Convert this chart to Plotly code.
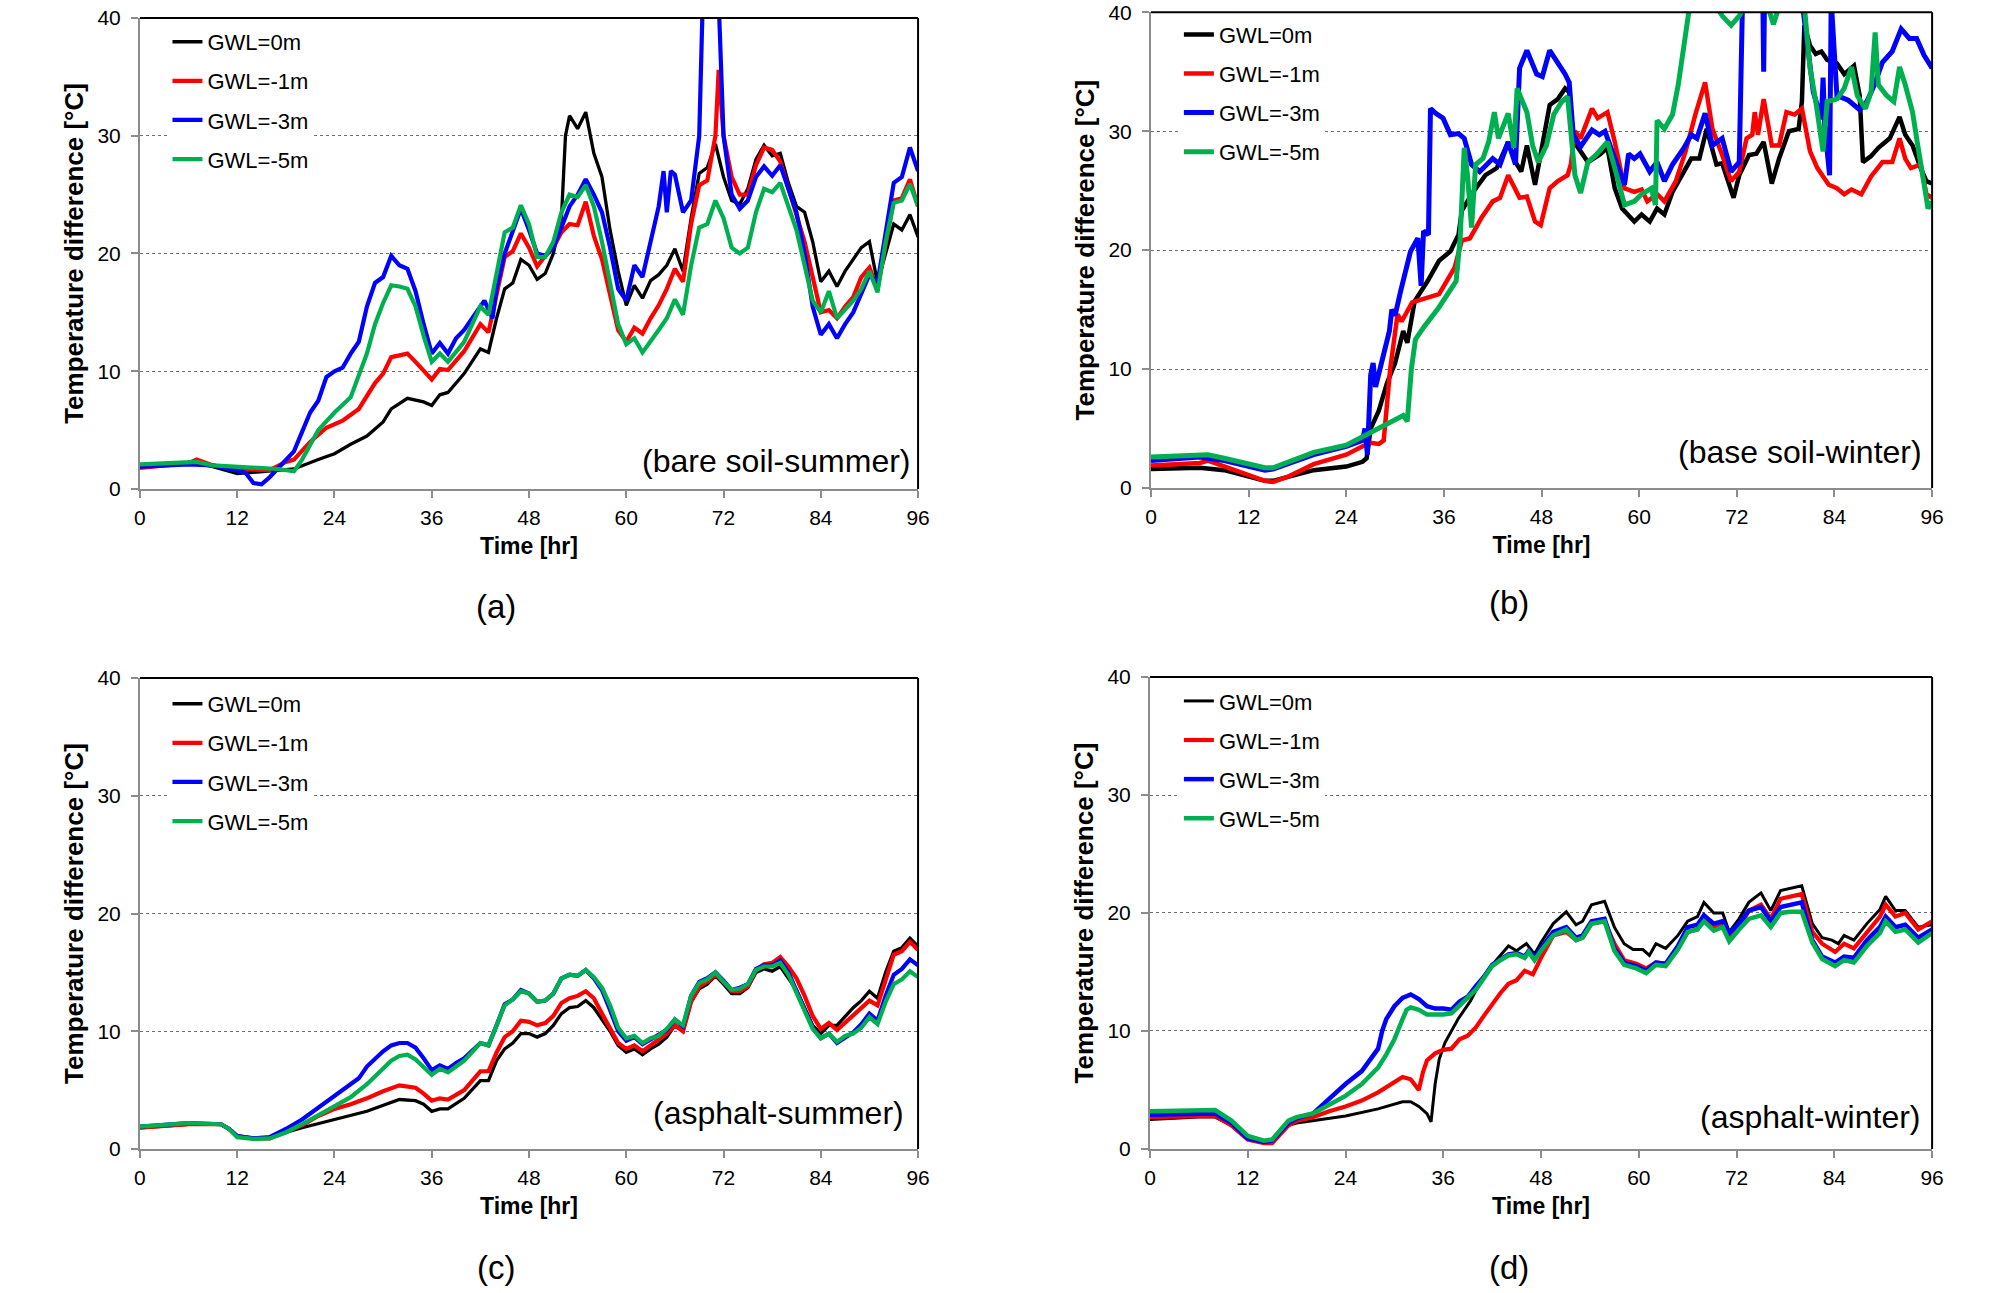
import plotly.graph_objects as go

# GWL series, (hour, temperature difference)
a_gwl0 = [(0,2.0),(6,2.1),(7,2.2),(9,1.9),(12,1.3),(16,1.5),(19,1.7),(22,2.5),(24,3.0),(26,3.8),(28,4.5),(30,5.7),(31,6.8),(33,7.7),(35,7.4),(36,7.1),(37,8.0),(38,8.2),(40,9.8),(42,11.9),(43,11.6),(44,14.5),(45,17.0),(46,17.5),(47,19.5),(48,19.0),(49,17.8),(50,18.3),(51,20.0),(52,23.0),(52.5,30.0),(53,31.7),(54,30.6),(55,32.0),(56,28.5),(57,26.5),(58,22.0),(59,18.5),(60,15.6),(61,17.3),(62,16.2),(63,17.7),(64,18.2),(65,19.0),(66,20.4),(67,18.5),(68,23.0),(69,26.8),(70,27.3),(71,29.3),(72,26.5),(73,24.5),(74,24.2),(75,25.5),(76,28.0),(77,29.2),(78,28.3),(79,28.5),(80,26.0),(81,24.0),(82,23.5),(83,21.0),(84,17.6),(85,18.5),(86,17.2),(87,18.5),(88,19.5),(89,20.5),(90,21.0),(91,17.5),(92,20.0),(93,22.5),(94,22.0),(95,23.3),(96,21.4)]
a_gwl1 = [(0,1.8),(6,2.2),(7,2.5),(9,2.0),(12,1.7),(16,1.6),(18,2.3),(19,2.5),(21,4.0),(23,5.2),(25,5.8),(27,6.8),(29,9.0),(30,9.8),(31,11.2),(33,11.5),(34,10.8),(36,9.3),(37,10.2),(38,10.1),(40,11.7),(42,14.0),(43,13.3),(44,16.5),(45,19.7),(46,20.2),(47,21.7),(48,20.5),(49,18.9),(50,19.8),(51,20.5),(52,21.8),(53,22.5),(54,22.4),(55,24.4),(56,21.5),(57,19.5),(58,16.5),(59,13.5),(60,12.5),(61,13.7),(62,13.2),(63,14.5),(64,15.6),(65,17.0),(66,18.7),(67,17.6),(68,22.5),(69,25.8),(70,26.2),(71,30.0),(71.4,35.6),(72,30.0),(73,26.5),(74,25.0),(75,25.0),(76,27.5),(77,29.0),(78,28.8),(79,27.8),(80,25.5),(81,23.5),(82,21.0),(83,18.0),(84,15.0),(85,15.2),(86,14.5),(87,15.5),(88,16.3),(89,18.0),(90,18.8),(91,17.0),(92,21.0),(93,24.5),(94,24.7),(95,26.3),(96,24.0)]
a_gwl3 = [(0,1.9),(6,2.1),(9,2.0),(12,1.6),(13,1.4),(14,0.5),(15,0.4),(16,1.0),(18,2.5),(19,3.2),(21,6.5),(22,7.5),(23,9.5),(24,10.0),(25,10.3),(26,11.5),(27,12.5),(28,15.5),(29,17.5),(30,18.0),(31,19.8),(32,19.0),(33,18.7),(34,16.8),(35,14.0),(36,11.5),(37,12.4),(38,11.5),(39,12.8),(40,13.5),(42,15.5),(42.5,16.0),(43.5,14.5),(44,17.0),(45,20.0),(46,22.0),(47,23.8),(48,22.0),(49,20.0),(50,19.8),(51,20.5),(52,22.2),(53,24.0),(54,25.0),(55,26.3),(56,25.0),(57,23.5),(58,20.5),(59,17.0),(60,16.0),(61,19.0),(62,18.0),(63,21.0),(64,24.0),(64.6,27.0),(65,23.5),(65.5,27.0),(66,26.7),(67,23.5),(68,24.5),(69,30.0),(69.4,40.5),(71.4,41.5),(72,30.0),(73,25.0),(74,23.8),(75,24.5),(76,26.5),(77,27.4),(78,26.6),(79,27.5),(80,25.5),(81,23.5),(82,20.0),(83,15.5),(84,13.1),(85,14.0),(86,12.8),(87,14.0),(88,15.0),(89,16.5),(90,18.2),(91,17.5),(92,22.0),(93,26.0),(94,26.5),(95,29.0),(96,27.0)]
a_gwl5 = [(0,2.1),(6,2.2),(7,2.3),(9,2.0),(12,1.9),(17,1.7),(19,1.5),(20,2.5),(22,5.0),(24,6.5),(26,7.8),(28,11.5),(29,14.0),(30,15.8),(31,17.3),(32,17.2),(33,17.0),(34,15.5),(35,13.0),(36,10.8),(37,11.5),(38,10.8),(40,12.5),(42,15.5),(43,14.8),(44,18.5),(45,21.8),(46,22.2),(47,24.1),(48,22.5),(49,19.7),(50,19.7),(51,21.0),(52,23.5),(53,25.0),(54,24.8),(55,25.8),(56,24.0),(57,21.0),(58,17.5),(59,14.0),(60,12.3),(61,12.8),(62,11.6),(63,12.5),(64,13.5),(65,14.5),(66,16.1),(67,14.8),(68,19.0),(69,22.2),(70,22.5),(71,24.5),(72,23.0),(73,20.5),(74,20.0),(75,20.5),(76,23.5),(77,25.5),(78,25.2),(79,26.0),(80,24.0),(81,22.0),(82,19.0),(83,16.0),(84,15.0),(85,16.8),(86,14.5),(87,15.3),(88,16.0),(89,17.0),(90,18.5),(91,16.7),(92,21.0),(93,24.3),(94,24.5),(95,25.9),(96,24.0)]

b_gwl0 = [(0,1.6),(6,1.7),(9,1.5),(12,1.0),(14,0.6),(15,0.6),(18,1.1),(20,1.5),(24,1.8),(26,2.2),(26.5,2.5),(27,5.0),(28,6.5),(29,8.8),(30,10.5),(31,13.2),(31.5,12.2),(32.4,15.7),(34.0,17.4),(35.4,19.1),(36.8,19.9),(37.8,21.3),(38.2,23.3),(39.4,24.7),(41.1,26.3),(42.5,26.9),(43.9,29.1),(44.8,27.4),(45.5,26.6),(46.2,28.8),(47.2,25.5),(48.1,28.8),(49.0,32.2),(50.0,32.7),(50.9,33.6),(51.4,33.3),(51.9,29.1),(52.3,28.8),(53.7,27.4),(55.1,28.0),(56.1,28.6),(57.0,25.2),(57.9,23.5),(59.4,22.4),(60.3,23.0),(61.3,22.4),(62.2,23.5),(63.1,23.0),(64.1,24.9),(65.5,26.6),(66.4,27.7),(67.4,27.7),(68.3,30.2),(69.5,27.2),(70.2,27.3),(71.6,24.4),(72.3,26.3),(73.5,28.0),(74.4,28.1),(75.3,29.1),(76.3,25.6),(77.2,27.7),(78.4,30.0),(79.6,30.2),(80.0,32.5),(80.3,38.9),(81.0,37.2),(81.7,36.5),(82.4,36.7),(83.1,36.0),(84.3,35.7),(85.2,34.8),(86.4,35.5),(87.1,33.0),(87.5,27.4),(88.5,27.9),(89.4,28.6),(90.8,29.4),(92.0,31.2),(92.7,29.7),(93.6,28.8),(94.6,26.9),(95.3,25.8),(96,25.6)]
b_gwl1 = [(0,1.9),(6,2.1),(7,2.3),(9,1.8),(12,1.1),(14,0.6),(15,0.5),(17,1.0),(20,2.0),(24,2.8),(26,3.5),(27,3.8),(28,3.7),(28.6,4.0),(29.4,10.0),(30.3,14.6),(30.8,14.0),(32.1,15.6),(34.0,16.0),(35.4,16.3),(37.3,18.5),(38.2,20.8),(39.2,21.0),(40.6,22.7),(42.0,24.1),(42.9,24.4),(43.9,26.3),(45.3,24.4),(46.2,24.5),(47.2,22.4),(47.9,22.1),(49.0,25.2),(50.0,25.8),(51.2,26.3),(51.6,27.2),(52.1,30.0),(52.8,29.4),(54.2,31.9),(54.9,31.1),(56.1,31.6),(57.0,29.1),(58.2,25.2),(59.4,24.9),(60.3,25.1),(61.0,24.1),(62.2,24.7),(63.1,24.1),(64.5,25.8),(65.7,28.3),(66.9,31.4),(68.1,34.1),(69.0,30.2),(70.2,28.0),(71.3,25.8),(72.3,26.6),(73.2,29.4),(73.9,29.7),(74.2,31.6),(74.6,29.7),(75.3,32.7),(76.3,28.8),(77.2,28.8),(78.1,31.6),(79.1,31.4),(80.0,31.9),(81.0,28.3),(81.9,26.9),(83.3,25.5),(84.3,25.2),(85.2,24.7),(86.1,25.1),(87.3,24.7),(88.5,26.2),(89.9,27.4),(91.1,27.4),(92.0,29.4),(92.7,27.7),(93.4,26.9),(94.6,27.2),(95.3,24.7),(96,24.4)]
b_gwl3 = [(0,2.3),(6,2.6),(9,2.3),(12,1.8),(14,1.5),(15,1.6),(18,2.3),(20,2.8),(24,3.5),(26,4.0),(26.3,5.0),(26.6,2.8),(27,9.5),(27.3,10.5),(27.6,8.5),(28.5,11.0),(29.3,13.2),(29.6,15.0),(30.0,14.5),(30.7,16.6),(31.9,19.9),(32.8,21.0),(33.2,17.0),(33.5,21.6),(34.1,21.3),(34.35,31.9),(35.0,31.5),(35.9,31.1),(36.8,29.7),(37.8,29.8),(38.5,29.4),(39.4,27.2),(40.4,26.6),(42.0,27.7),(42.9,27.2),(43.9,29.1),(44.8,27.2),(45.3,35.3),(46.2,36.8),(47.4,34.8),(48.1,34.6),(49.0,36.8),(50.0,35.8),(50.9,34.8),(51.4,34.1),(51.9,29.7),(52.8,28.7),(54.2,30.1),(55.1,29.7),(55.8,30.0),(57.0,27.7),(58.2,25.5),(58.7,28.1),(59.4,27.7),(60.1,28.1),(61.3,26.6),(62.2,27.4),(63.1,25.8),(64.1,27.2),(65.5,28.6),(66.4,29.7),(67.1,29.4),(68.1,31.5),(69.0,28.8),(70.2,29.4),(71.3,26.6),(72.3,27.4),(72.7,41.0),(75.2,41.0),(75.3,35.0),(75.4,41.0),(80.0,41.0),(81.4,33.3),(82.4,31.0),(82.6,34.5),(82.8,30.5),(83.4,26.3),(83.6,41.0),(84.3,33.0),(85.7,32.6),(87.1,31.8),(88.0,32.5),(88.9,33.9),(89.9,35.8),(91.1,36.7),(92.2,38.6),(93.2,37.8),(94.1,37.8),(95.0,36.4),(96,35.3)]
b_gwl5 = [(0,2.6),(6,2.8),(7,2.8),(9,2.5),(12,2.0),(14,1.7),(15,1.7),(18,2.5),(20,3.0),(24,3.6),(26,4.3),(28,5.0),(30,5.8),(31,6.1),(31.5,5.6),(32.0,10.0),(32.5,12.5),(33.5,13.5),(35.4,15.2),(36.8,16.6),(37.5,17.4),(38.0,21.0),(38.5,28.6),(38.9,26.3),(39.4,21.9),(39.9,27.2),(40.8,27.7),(41.5,29.1),(42.2,31.6),(42.7,29.4),(43.9,31.5),(44.6,28.6),(45.0,33.6),(46.2,31.6),(46.9,28.8),(47.6,27.4),(48.6,28.8),(49.5,31.4),(50.5,32.5),(51.2,32.9),(51.6,29.7),(52.1,26.3),(52.8,24.8),(53.7,27.4),(54.7,28.0),(56.1,29.1),(57.0,26.9),(58.2,23.8),(59.4,24.1),(60.3,24.7),(61.5,25.2),(62.0,23.8),(62.2,30.9),(63.1,30.2),(64.1,31.4),(64.8,33.9),(65.5,37.2),(66.2,40.5),(69.5,40.5),(70.2,39.7),(71.3,38.9),(72.3,39.7),(73.0,40.5),(75.8,40.5),(76.5,39.0),(77.2,40.5),(80.3,40.5),(81.0,35.3),(81.7,32.5),(82.1,30.8),(82.6,28.3),(83.1,32.5),(84.3,32.7),(85.2,33.6),(86.1,35.4),(86.8,33.0),(87.8,31.9),(88.5,33.3),(89.0,38.3),(89.4,33.9),(90.4,33.0),(91.3,32.5),(92.0,35.4),(92.7,33.9),(93.6,31.6),(94.1,29.4),(94.8,26.1),(95.5,23.5),(96,24.1)]

c_gwl0 = [(0,1.8),(6,2.1),(10,2.1),(11,1.7),(12,1.1),(14,0.9),(16,0.9),(18,1.4),(20,1.8),(24,2.5),(28,3.2),(32,4.2),(34,4.1),(35,3.8),(36,3.2),(37,3.4),(38,3.4),(40,4.3),(42,5.8),(43,5.8),(44,7.5),(45,8.5),(46,9.0),(47,9.8),(48,9.8),(49,9.5),(50,9.8),(51,10.5),(52,11.5),(53,12.0),(54,12.1),(55,12.6),(56,12.0),(57,11.0),(58,10.0),(59,8.8),(60,8.2),(61,8.5),(62,8.0),(63,8.5),(64,8.9),(65,9.5),(66,10.5),(67,10.0),(68,12.5),(69,13.6),(70,14.0),(71,14.7),(72,14.0),(73,13.2),(74,13.2),(75,13.7),(76,15.0),(77,15.3),(78,15.1),(79,15.5),(80,14.5),(81,13.5),(82,12.0),(83,10.5),(84,9.8),(85,10.5),(86,10.5),(87,11.3),(88,12.0),(89,12.6),(90,13.4),(91,12.8),(92,15.0),(93,16.8),(94,17.1),(95,17.9),(96,17.2)]
c_gwl1 = [(0,1.8),(6,2.1),(10,2.1),(11,1.7),(12,1.1),(14,0.9),(16,0.9),(18,1.5),(20,2.0),(22,2.8),(24,3.4),(26,3.8),(28,4.3),(30,4.9),(32,5.4),(34,5.2),(35,4.7),(36,4.1),(37,4.3),(38,4.2),(40,5.0),(42,6.6),(43,6.6),(44,8.2),(45,9.5),(46,10.0),(47,10.9),(48,10.8),(49,10.5),(50,10.7),(51,11.3),(52,12.4),(53,12.8),(54,13.0),(55,13.4),(56,12.8),(57,11.5),(58,10.3),(59,9.0),(60,8.5),(61,8.8),(62,8.3),(63,8.8),(64,9.2),(65,9.8),(66,10.5),(67,10.0),(68,12.5),(69,13.8),(70,14.2),(71,14.8),(72,14.2),(73,13.4),(74,13.4),(75,13.8),(76,15.2),(77,15.7),(78,15.8),(79,16.3),(80,15.5),(81,14.5),(82,13.0),(83,11.3),(84,10.2),(85,10.7),(86,10.1),(87,10.7),(88,11.3),(89,12.0),(90,12.6),(91,12.2),(92,14.5),(93,16.5),(94,16.8),(95,17.6),(96,16.9)]
c_gwl3 = [(0,1.9),(6,2.2),(10,2.1),(11,1.7),(12,1.1),(14,0.9),(16,1.0),(18,1.7),(20,2.5),(22,3.5),(24,4.5),(26,5.5),(27,6.0),(28,7.0),(30,8.3),(31,8.8),(32,9.0),(33,9.0),(34,8.6),(35,7.7),(36,6.7),(37,7.1),(38,6.8),(39,7.3),(40,7.7),(42,9.0),(43,8.8),(44,10.5),(45,12.3),(46,12.7),(47,13.5),(48,13.2),(49,12.5),(50,12.6),(51,13.2),(52,14.5),(53,14.8),(54,14.7),(55,15.2),(56,14.5),(57,13.5),(58,11.8),(59,10.0),(60,9.2),(61,9.5),(62,8.9),(63,9.3),(64,9.6),(65,10.1),(66,11.0),(67,10.4),(68,13.0),(69,14.2),(70,14.5),(71,15.0),(72,14.3),(73,13.5),(74,13.7),(75,14.0),(76,15.3),(77,15.6),(78,15.6),(79,16.0),(80,15.0),(81,13.5),(82,12.0),(83,10.3),(84,9.4),(85,9.8),(86,9.0),(87,9.5),(88,9.9),(89,10.6),(90,11.5),(91,10.9),(92,13.0),(93,14.8),(94,15.3),(95,16.1),(96,15.6)]
c_gwl5 = [(0,1.9),(6,2.2),(10,2.1),(11,1.7),(12,1.0),(14,0.85),(16,0.9),(18,1.4),(20,2.1),(22,2.9),(24,3.6),(26,4.4),(28,5.5),(30,6.8),(31,7.5),(32,7.9),(33,8.0),(34,7.6),(35,6.9),(36,6.3),(37,6.8),(38,6.5),(39,7.0),(40,7.5),(42,9.0),(43,8.8),(44,10.5),(45,12.2),(46,12.7),(47,13.4),(48,13.2),(49,12.5),(50,12.6),(51,13.2),(52,14.5),(53,14.8),(54,14.7),(55,15.2),(56,14.6),(57,13.7),(58,12.2),(59,10.3),(60,9.4),(61,9.6),(62,9.0),(63,9.4),(64,9.6),(65,10.2),(66,11.0),(67,10.5),(68,13.0),(69,14.1),(70,14.4),(71,15.0),(72,14.2),(73,13.5),(74,13.6),(75,14.0),(76,15.2),(77,15.5),(78,15.5),(79,15.8),(80,14.8),(81,13.3),(82,11.8),(83,10.2),(84,9.4),(85,9.8),(86,9.1),(87,9.6),(88,9.8),(89,10.3),(90,11.2),(91,10.6),(92,12.5),(93,14.0),(94,14.4),(95,15.1),(96,14.6)]

d_gwl0 = [(0,2.5),(6,2.7),(8,2.7),(10,2.0),(12,0.8),(14,0.6),(15,0.6),(17,2.0),(18,2.2),(20,2.4),(24,2.8),(28,3.4),(30,3.8),(31,4.0),(32,4.0),(33,3.6),(34,3.0),(34.5,2.3),(35,5.5),(35.5,7.6),(36.2,9.0),(37.8,11.0),(39.3,12.5),(40.9,14.6),(42.5,16.0),(44,17.2),(45,16.8),(46.2,17.4),(47.2,16.5),(48,17.5),(49.5,19.1),(51.1,20.1),(52.3,19.0),(53.1,19.3),(54.2,20.7),(55.8,21.0),(57,18.8),(58.2,17.4),(59.3,16.9),(60.5,16.9),(61.3,16.4),(62.1,17.4),(63.3,17.0),(64.8,18.1),(66,19.3),(67.2,19.7),(68,20.9),(69.2,20.0),(70.3,20.0),(71.1,18.4),(72.3,19.5),(73.5,20.9),(75,21.7),(76.2,20.2),(77.4,21.9),(78.6,22.1),(80,22.3),(81.3,19.1),(82.5,17.9),(83.7,17.7),(84.5,17.4),(85.2,18.1),(86.4,17.7),(88,19.1),(89.6,20.3),(90.3,21.4),(91.5,20.2),(92.7,20.2),(94.3,18.8),(96,19.0)]
d_gwl1 = [(0,2.7),(6,2.8),(8,2.8),(10,2.0),(12,0.8),(14,0.5),(15,0.5),(17,2.0),(18,2.4),(20,2.7),(22,3.2),(24,3.6),(26,4.1),(28,4.8),(30,5.7),(31,6.1),(32,5.9),(33,5.0),(33.5,6.5),(34,7.5),(35,8.1),(36,8.4),(37,8.5),(38,9.3),(39,9.6),(40,10.3),(41,11.3),(42,12.3),(43,13.2),(44,14.0),(45,14.3),(46,15.1),(47,14.8),(48,16.2),(49.5,18.1),(51.1,18.4),(52.3,17.7),(53.1,17.9),(54.2,19.1),(55.8,19.3),(57,17.4),(58.2,16.0),(59.7,15.7),(60.9,15.3),(62.1,15.8),(63.3,15.7),(64.8,17.0),(66,18.4),(67.2,18.6),(68,19.5),(69.2,18.8),(70.3,19.1),(71.1,17.9),(72.3,18.8),(73.5,20.2),(75,20.7),(76.2,19.5),(77.4,21.2),(78.6,21.4),(80,21.6),(81.3,18.4),(82.5,17.4),(84.1,16.7),(85.2,17.4),(86.4,17.0),(88,18.4),(89.6,19.7),(90.3,20.7),(91.5,19.7),(92.7,20.0),(94.3,18.6),(96,19.3)]
d_gwl3 = [(0,2.9),(6,3.0),(8,3.0),(10,2.2),(12,0.9),(14,0.6),(15,0.7),(17,2.2),(18,2.6),(20,3.0),(22,4.3),(24,5.5),(26,6.6),(27,7.5),(28,8.5),(28.5,10.0),(29,11.0),(30,12.1),(31,12.8),(32,13.1),(33,12.7),(34,12.1),(35,11.9),(36,11.9),(37,11.8),(38,12.5),(39,12.9),(40,13.8),(41,14.6),(42,15.6),(43,16.0),(44,16.5),(45,16.6),(46,16.3),(46.5,16.8),(47.2,16.2),(48,17.0),(49.5,18.4),(51.1,18.8),(52.3,17.9),(53.1,18.1),(54.2,19.3),(55.8,19.5),(57,17.0),(58.2,15.8),(59.7,15.5),(60.9,15.1),(62.1,15.8),(63.3,15.7),(64.8,17.2),(66,18.8),(67.2,19.0),(68,19.8),(69.2,19.1),(70.3,19.3),(71.1,18.3),(72.3,19.1),(73.5,20.2),(75,20.5),(76.2,19.3),(77.4,20.5),(78.6,20.7),(80,20.9),(81.3,17.7),(82.5,16.3),(84.1,15.8),(85.2,16.3),(86.4,16.2),(88,17.7),(89.6,18.8),(90.3,19.7),(91.5,18.8),(92.7,19.0),(94.3,17.9),(96,18.6)]
d_gwl5 = [(0,3.2),(6,3.3),(8,3.3),(10,2.4),(12,1.1),(14,0.7),(15,0.8),(17,2.4),(18,2.7),(20,3.0),(22,3.7),(24,4.5),(26,5.5),(28,6.9),(29,8.0),(30,9.3),(31,11.0),(31.5,11.8),(32,12.0),(33,11.8),(34,11.4),(35,11.4),(36,11.4),(37,11.5),(38,12.2),(39,12.8),(40,13.5),(41,14.5),(42,15.5),(43,16.0),(44,16.4),(45,16.5),(46,16.2),(46.5,16.7),(47.2,16.0),(48,16.8),(49.5,18.1),(51.1,18.6),(52.3,17.7),(53.1,17.9),(54.2,19.1),(55.8,19.3),(57,16.8),(58.2,15.6),(59.7,15.3),(60.9,14.9),(62.1,15.6),(63.3,15.5),(64.8,16.9),(66,18.4),(67.2,18.6),(68,19.3),(69.2,18.5),(70.3,18.8),(71.1,17.6),(72.3,18.6),(73.5,19.5),(75,19.8),(76.2,18.8),(77.4,20.0),(78.6,20.1),(80,20.1),(81.3,17.5),(82.5,16.1),(84.1,15.5),(85.2,16.0),(86.4,15.8),(88,17.2),(89.6,18.3),(90.3,19.3),(91.5,18.4),(92.7,18.6),(94.3,17.5),(96,18.3)]

series_names = ["GWL=0m", "GWL=-1m", "GWL=-3m", "GWL=-5m"]
series_colors = ["#000000", "#ff0000", "#0000ff", "#00b050"]
panel_labels = ["(a)", "(b)", "(c)", "(d)"]
panel_titles = ["(bare soil-summer)", "(base soil-winter)", "(asphalt-summer)", "(asphalt-winter)"]
x_ticks = [0, 12, 24, 36, 48, 60, 72, 84, 96]

FONT = "Liberation Sans, Arial, sans-serif"

panels = [
    # data, x domain, y domain, legend pos, label pos, inner text pos, line widths
    dict(data=[a_gwl0, a_gwl1, a_gwl3, a_gwl5], xd=[0.0697, 0.4572], yd=[0.6218, 0.9861],
         leg=(0.0834, 0.9838), lab=(0.247, 0.531), txt=(0.992, 0.059), w=[3.3, 4.2, 4.2, 4.2]),
    dict(data=[b_gwl0, b_gwl1, b_gwl3, b_gwl5], xd=[0.5732, 0.9622], yd=[0.6226, 0.9905],
         leg=(0.5871, 0.9895), lab=(0.7515, 0.534), txt=(0.990, 0.075), w=[4.5, 4.5, 5, 5]),
    dict(data=[c_gwl0, c_gwl1, c_gwl3, c_gwl5], xd=[0.0697, 0.4572], yd=[0.1114, 0.4756],
         leg=(0.0834, 0.4718), lab=(0.247, 0.020), txt=(0.985, 0.076), w=[3.3, 4.2, 4.2, 4.2]),
    dict(data=[d_gwl0, d_gwl1, d_gwl3, d_gwl5], xd=[0.5727, 0.9622], yd=[0.1114, 0.4764],
         leg=(0.5871, 0.4740), lab=(0.7515, 0.020), txt=(0.988, 0.067), w=[3.0, 4.2, 4.5, 4.5]),
]

fig = go.Figure()
layout = dict(
    width=2008, height=1293,
    margin=dict(l=0, r=0, t=0, b=0, autoexpand=False),
    paper_bgcolor="white", plot_bgcolor="white",
    font=dict(family=FONT, size=21, color="black"),
    annotations=[], shapes=[],
)

for i, p in enumerate(panels):
    n = "" if i == 0 else str(i + 1)
    leg = "legend" + n
    for k, pairs in enumerate(p["data"]):
        fig.add_trace(go.Scatter(
            x=[q[0] for q in pairs], y=[q[1] for q in pairs],
            mode="lines", name=series_names[k],
            line=dict(color=series_colors[k], width=p["w"][k]),
            xaxis="x" + n, yaxis="y" + n,
            legend=leg, legendgroup="%s_%d" % (leg, k),
        ))

    layout["xaxis" + n] = dict(
        domain=p["xd"], anchor="y" + n, range=[0, 96], automargin=False,
        tickvals=x_ticks, ticks="outside", ticklen=7, tickwidth=2, tickcolor="#8c8c8c",
        showline=True, linecolor="#8c8c8c", linewidth=2, showgrid=False, zeroline=False,
        tickfont=dict(size=21), ticklabelstandoff=2, ticklabeloverflow="allow",
        title=dict(text="<b>Time [hr]</b>", font=dict(size=23), standoff=10),
    )
    layout["yaxis" + n] = dict(
        domain=p["yd"], anchor="x" + n, range=[0, 40], dtick=10, automargin=False,
        ticks="outside", ticklen=7, tickwidth=2, tickcolor="#8c8c8c",
        showline=True, linecolor="#8c8c8c", linewidth=2, zeroline=False,
        showgrid=True, gridcolor="#6e6e6e", gridwidth=1, griddash="dot",
        tickfont=dict(size=21), ticklabelstandoff=6, ticklabeloverflow="allow",
        title=dict(text="<b>Temperature difference [°C]</b>", font=dict(size=26), standoff=6),
    )
    layout[leg] = dict(
        x=p["leg"][0], y=p["leg"][1], xanchor="left", yanchor="top",
        bgcolor="white", borderwidth=0, font=dict(size=22),
        tracegroupgap=7.5, itemclick=False,
    )
    # top and right frame in black
    xr, yr = "x%s domain" % n, "y%s domain" % n
    layout["shapes"].append(dict(type="line", xref=xr, yref=yr, x0=0, x1=1, y0=1, y1=1,
                                 line=dict(color="black", width=2), layer="above"))
    layout["shapes"].append(dict(type="line", xref=xr, yref=yr, x0=1, x1=1, y0=0, y1=1,
                                 line=dict(color="black", width=2), layer="above"))
    layout["annotations"].append(dict(
        text=panel_titles[i], xref=xr, yref=yr, x=p["txt"][0], y=p["txt"][1],
        xanchor="right", yanchor="middle", showarrow=False, font=dict(size=32)))
    layout["annotations"].append(dict(
        text=panel_labels[i], xref="paper", yref="paper", x=p["lab"][0], y=p["lab"][1],
        xanchor="center", yanchor="middle", showarrow=False, font=dict(size=33)))

fig.update_layout(**layout)
# page body margin would push the figure 8px down/right and clip the top tick labels
fig.write_html("out.html", config={"displayModeBar": False},
               post_script="document.body.style.margin='0px';")
